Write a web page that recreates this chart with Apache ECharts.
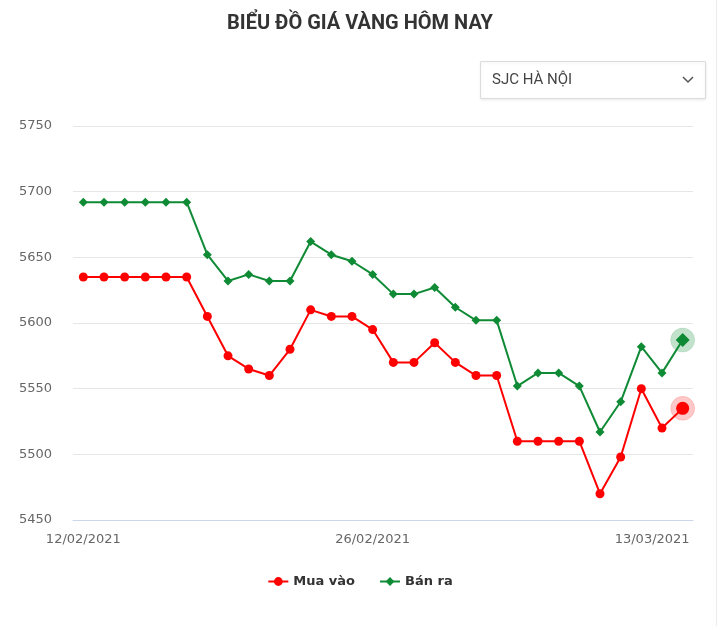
<!DOCTYPE html>
<html>
<head>
<meta charset="utf-8">
<script src="https://cdn.jsdelivr.net/npm/echarts@6/dist/echarts.min.js"></script>
<style>
html,body{margin:0;padding:0;background:#fff;}
#c{width:720px;height:626px;}
</style>
</head>
<body>
<div id="c"></div>
<script>
const titleText = 'BIỂU ĐỒ GIÁ VÀNG HÔM NAY';
const selectText = 'SJC HÀ NỘI';
const dates = [
  '12/02/2021','13/02/2021','14/02/2021','15/02/2021','16/02/2021','17/02/2021',
  '18/02/2021','19/02/2021','20/02/2021','21/02/2021','22/02/2021','23/02/2021',
  '24/02/2021','25/02/2021','26/02/2021','27/02/2021','28/02/2021','01/03/2021',
  '02/03/2021','03/03/2021','04/03/2021','05/03/2021','06/03/2021','07/03/2021',
  '08/03/2021','09/03/2021','10/03/2021','11/03/2021','12/03/2021','13/03/2021'
];
const shownLabels = [0, 14, 29];
const muaVao = [
  5635,5635,5635,5635,5635,5635,5605,5575,5565,5560,5580,5610,5605,5605,5595,
  5570,5570,5585,5570,5560,5560,5510,5510,5510,5510,5470,5498,5550,5520,5535
];
const banRa = [
  5692,5692,5692,5692,5692,5692,5652,5632,5637,5632,5632,5662,5652,5647,5637,
  5622,5622,5627,5612,5602,5602,5552,5562,5562,5552,5517,5540,5582,5562,5587
];
const yMin = 5450, yMax = 5750, yStep = 50;

const RED = '#ff0000', GREEN = '#0f8a35';
const lastIdx = dates.length - 1;
const AXIS_FONT = '"DejaVu Sans", sans-serif';

function withLast(arr, size) {
  return arr.map((v, i) => i === lastIdx ? { value: v, symbolSize: size } : v);
}

const chart = echarts.init(document.getElementById('c'), null, { renderer: 'canvas' });
chart.setOption({
  animation: false,
  backgroundColor: '#fff',
  title: {
    text: titleText,
    left: 'center',
    top: 9,
    textStyle: { fontFamily: 'Roboto, sans-serif', fontWeight: 'bold', fontSize: 20, color: '#333' }
  },
  legend: {
    bottom: 33,
    left: 'center',
    itemWidth: 20,
    itemHeight: 11,
    itemGap: 24,
    textStyle: { fontFamily: 'DejaVu Sans, sans-serif', fontWeight: 'bold', fontSize: 13, color: '#333' },
    data: ['Mua vào', 'Bán ra']
  },
  grid: { left: 73, right: 27, top: 126, bottom: 106, containLabel: false },
  xAxis: {
    type: 'category',
    data: dates,
    boundaryGap: true,
    axisLine: { show: true, lineStyle: { color: '#ccd6eb', width: 1 } },
    axisTick: { show: false },
    splitLine: { show: false },
    axisLabel: {
      interval: (i) => shownLabels.indexOf(i) >= 0,
      margin: 13,
      color: '#666',
      fontFamily: AXIS_FONT,
      fontSize: 13,
      formatter: (v, i) => i === lastIdx ? '{r|' + v + '}' : v,
      rich: { r: { color: '#666', fontFamily: AXIS_FONT, fontSize: 13, padding: [0, 61, 0, 0] } }
    }
  },
  yAxis: {
    type: 'value',
    min: yMin,
    max: yMax,
    interval: yStep,
    axisLine: { show: false },
    axisTick: { show: false },
    splitLine: { lineStyle: { color: '#e6e6e6', width: 1 } },
    axisLabel: { margin: 21, color: '#666', fontFamily: AXIS_FONT, fontSize: 13, formatter: (v) => String(v) }
  },
  series: [
    {
      name: 'Mua vào',
      type: 'line',
      data: withLast(muaVao, 13),
      symbol: 'circle',
      symbolSize: 9,
      color: RED,
      lineStyle: { width: 2, color: RED },
      itemStyle: { color: RED },
      markPoint: {
        silent: true,
        symbol: 'circle',
        symbolSize: 24,
        label: { show: false },
        itemStyle: { color: 'rgba(255,0,0,0.22)', borderColor: 'rgba(255,0,0,0.12)', borderWidth: 1 },
        data: [{ coord: [lastIdx, muaVao[lastIdx]] }]
      },
      z: 3
    },
    {
      name: 'Bán ra',
      type: 'line',
      data: withLast(banRa, 14),
      symbol: 'diamond',
      symbolSize: 9,
      color: GREEN,
      lineStyle: { width: 2, color: GREEN },
      itemStyle: { color: GREEN },
      markPoint: {
        silent: true,
        symbol: 'circle',
        symbolSize: 24,
        label: { show: false },
        itemStyle: { color: 'rgba(15,138,53,0.25)', borderColor: 'rgba(15,138,53,0.12)', borderWidth: 1 },
        data: [{ coord: [lastIdx, banRa[lastIdx]] }]
      },
      z: 3
    }
  ],
  graphic: [
    { type: 'rect', shape: { x: 716, y: 0, width: 1, height: 626 }, style: { fill: '#ececec' }, silent: true },
    { type: 'rect', shape: { x: 480.5, y: 61.5, width: 225, height: 37 }, style: { fill: '#fff', stroke: '#dcdcdc', lineWidth: 1, shadowBlur: 3, shadowColor: 'rgba(0,0,0,0.08)', shadowOffsetY: 1 }, silent: true },
    { type: 'text', x: 492, y: 80, style: { text: selectText, fill: '#444', font: '15px Roboto, sans-serif', verticalAlign: 'middle' }, silent: true },
    { type: 'polyline', shape: { points: [[683, 77], [688, 82], [693, 77]] }, style: { stroke: '#555', lineWidth: 1.5, fill: null }, silent: true }
  ]
});
</script>
</body>
</html>
